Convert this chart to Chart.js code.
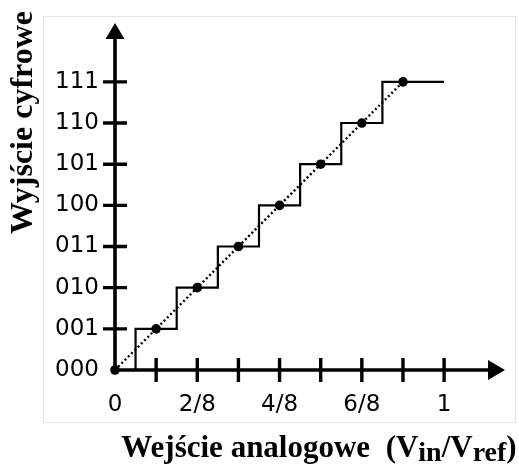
<!DOCTYPE html>
<html><head><meta charset="utf-8">
<script src="https://cdn.jsdelivr.net/npm/chart.js@4"></script>
<style>html,body{margin:0;padding:0;background:#fff}</style>
</head><body>
<canvas id="c" width="519" height="467" style="display:block;width:519px;height:467px"></canvas>
<script>
// ---- data ----
const xTickValues = [0, 1, 2, 3, 4, 5, 6, 7, 8];          // units of Vref/8
const xTickLabels = ['0', '', '2/8', '', '4/8', '', '6/8', '', '1'];
const yTickValues = [0, 1, 2, 3, 4, 5, 6, 7];
const yTickLabels = ['000', '001', '010', '011', '100', '101', '110', '111'];
const stepX = [0, 0.5, 1.5, 2.5, 3.5, 4.5, 5.5, 6.5, 8];   // quantizer transitions
const stepY = [0, 1, 2, 3, 4, 5, 6, 7, 7];
const idealX = [0, 1, 2, 3, 4, 5, 6, 7];
const idealY = [0, 1, 2, 3, 4, 5, 6, 7];
const xAxisEnd = 9.48;   // arrow tip of the x axis
const yAxisEnd = 8.43;   // arrow tip of the y axis
const yTitle = 'Wyjście cyfrowe';
const xTitleParts = [['Wejście analogowe  (V', 0], ['in', 1], ['/V', 0], ['ref', 1], [')', 0]];

const TITLE_FONT = 'bold 31px "Liberation Serif"';
const YTITLE_FONT = 'bold 32px "Liberation Serif"';
const SUB_FONT = 'bold 28px "Liberation Serif"';
const TICK_FONT = {family: 'DejaVu Sans', size: 23};

const framePlugin = {
  id: 'frame',
  beforeDraw(chart) {
    const ctx = chart.ctx;
    ctx.save();
    ctx.fillStyle = '#fff';
    ctx.fillRect(0, 0, chart.width, chart.height);
    ctx.strokeStyle = '#e3e3e3';
    ctx.lineWidth = 1;
    ctx.strokeRect(43.5, 16.5, 472, 406);
    ctx.restore();
  }
};

const axesPlugin = {
  id: 'arrowAxes',
  beforeDatasetsDraw(chart) {
    const ctx = chart.ctx;
    const xs = chart.scales.x, ys = chart.scales.y;
    const x0 = xs.getPixelForValue(0), y0 = ys.getPixelForValue(0);
    const xE = xs.getPixelForValue(xAxisEnd), yE = ys.getPixelForValue(yAxisEnd);
    ctx.save();
    ctx.strokeStyle = '#000';
    ctx.fillStyle = '#000';
    ctx.lineWidth = 3.6;
    ctx.beginPath();
    ctx.moveTo(x0, y0 + 1.8); ctx.lineTo(x0, yE + 12);
    ctx.moveTo(x0 - 1.8, y0); ctx.lineTo(xE - 12, y0);
    ctx.stroke();
    // arrow heads
    ctx.beginPath();
    ctx.moveTo(x0, yE); ctx.lineTo(x0 + 9.5, yE + 16); ctx.lineTo(x0 - 9.5, yE + 16); ctx.closePath();
    ctx.fill();
    ctx.beginPath();
    ctx.moveTo(xE, y0); ctx.lineTo(xE - 17, y0 - 10); ctx.lineTo(xE - 17, y0 + 10); ctx.closePath();
    ctx.fill();
    // crossing tick marks
    ctx.lineWidth = 3.4;
    ctx.beginPath();
    xTickValues.forEach(v => {
      if (v === 0) return;
      const p = xs.getPixelForValue(v);
      ctx.moveTo(p, y0 - 12); ctx.lineTo(p, y0 + 12);
    });
    yTickValues.forEach(v => {
      if (v === 0) return;
      const p = ys.getPixelForValue(v);
      ctx.moveTo(x0 - 12, p); ctx.lineTo(x0 + 12, p);
    });
    ctx.stroke();
    ctx.restore();
  }
};

const titlesPlugin = {
  id: 'axisTitles',
  afterDraw(chart) {
    const ctx = chart.ctx;
    ctx.save();
    ctx.fillStyle = '#000';
    // y title (rotated)
    ctx.font = YTITLE_FONT;
    ctx.textAlign = 'center';
    ctx.textBaseline = 'alphabetic';
    ctx.translate(32, 122.5);
    ctx.rotate(-Math.PI / 2);
    ctx.fillText(yTitle, 0, 0);
    ctx.setTransform(1, 0, 0, 1, 0, 0);
    // x title with subscripts
    let total = 0;
    const widths = xTitleParts.map(([t, sub]) => {
      ctx.font = sub ? SUB_FONT : TITLE_FONT;
      const w = ctx.measureText(t).width;
      total += w;
      return w;
    });
    let x = 319 - total / 2;
    const base = 457;
    ctx.textAlign = 'left';
    xTitleParts.forEach(([t, sub], i) => {
      ctx.font = sub ? SUB_FONT : TITLE_FONT;
      ctx.fillText(t, x, sub ? base + 4 : base);
      x += widths[i];
    });
    ctx.restore();
  }
};

new Chart(document.getElementById('c'), {
  type: 'line',
  data: {
    datasets: [
      {
        label: 'kwantyzacja',
        data: stepX.map((x, i) => ({x, y: stepY[i]})),
        stepped: true,
        borderColor: '#000',
        borderWidth: 2.2,
        pointRadius: 0,
        fill: false,
        clip: false
      },
      {
        label: 'idealna',
        data: idealX.map((x, i) => ({x, y: idealY[i]})),
        borderColor: '#000',
        borderWidth: 2.4,
        borderDash: [2, 2.6],
        pointRadius: 4.8,
        pointBackgroundColor: '#000',
        pointBorderWidth: 0,
        fill: false,
        clip: false
      }
    ]
  },
  options: {
    responsive: false,
    animation: false,
    events: [],
    devicePixelRatio: 1,
    layout: {padding: {left: 0, top: 23, right: 14, bottom: 37}},
    plugins: {legend: {display: false}, tooltip: {enabled: false}},
    scales: {
      x: {
        type: 'linear', position: 'bottom', min: 0, max: xAxisEnd,
        afterBuildTicks: s => { s.ticks = xTickValues.map(v => ({value: v})); },
        afterFit: s => { s.height = 60; s.paddingLeft = 0; s.paddingRight = 0; },
        grid: {display: false, drawTicks: false},
        border: {display: false},
        ticks: {
          autoSkip: false, maxRotation: 0, minRotation: 0, padding: 21.5,
          color: '#000', font: TICK_FONT,
          callback: v => xTickLabels[xTickValues.indexOf(v)]
        }
      },
      y: {
        type: 'linear', position: 'left', min: 0, max: yAxisEnd,
        afterBuildTicks: s => { s.ticks = yTickValues.map(v => ({value: v})); },
        afterFit: s => { s.width = 115; s.paddingTop = 0; s.paddingBottom = 0; },
        grid: {display: false, drawTicks: false},
        border: {display: false},
        ticks: {
          autoSkip: false, padding: 16,
          color: '#000', font: TICK_FONT,
          callback: v => yTickLabels[yTickValues.indexOf(v)]
        }
      }
    }
  },
  plugins: [framePlugin, axesPlugin, titlesPlugin]
});
</script>
</body></html>
